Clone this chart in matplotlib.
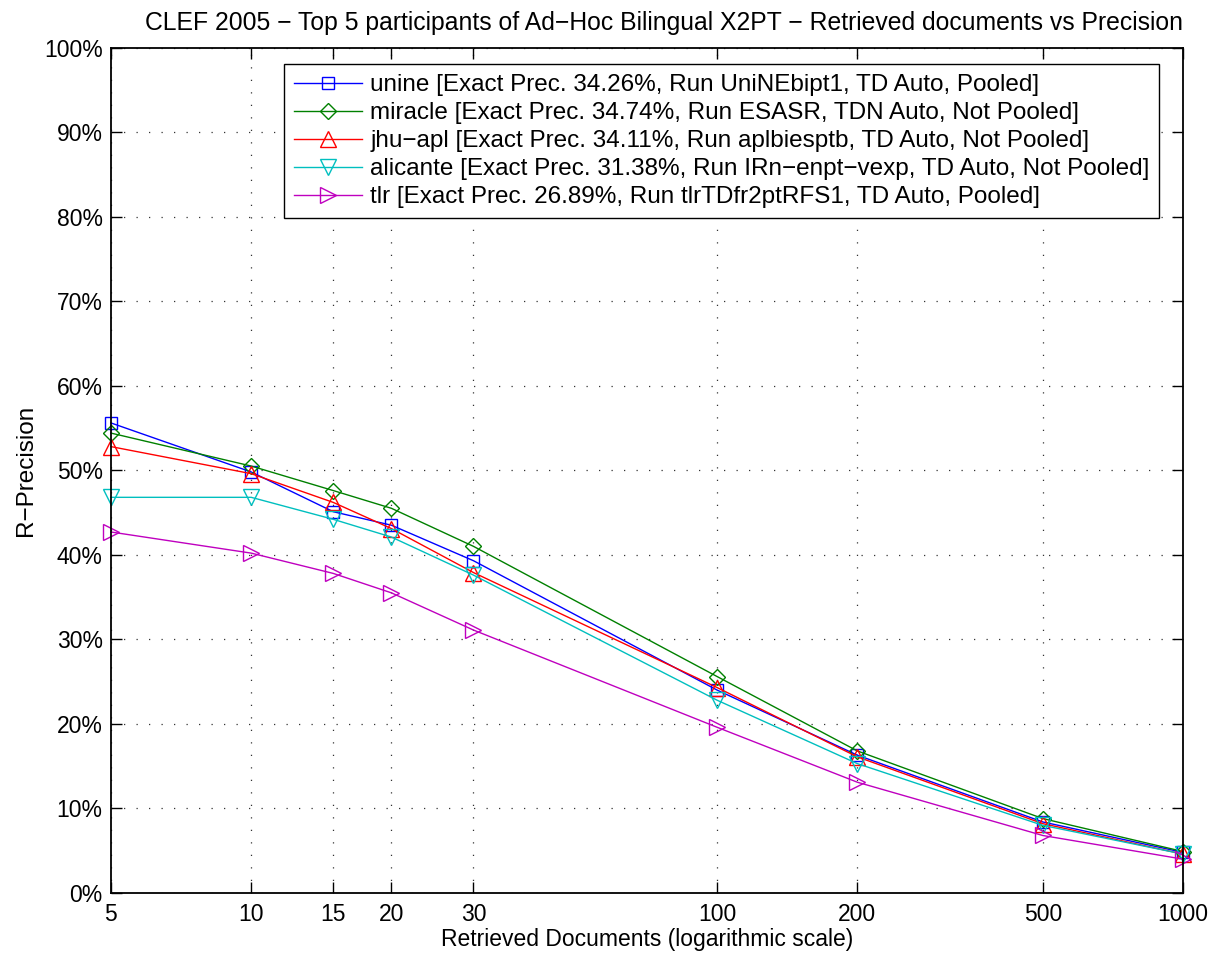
import matplotlib
matplotlib.use("Agg")
import matplotlib.pyplot as plt
from matplotlib.ticker import FixedLocator, FixedFormatter, NullLocator

plt.rcParams['font.family'] = ['Liberation Sans', 'DejaVu Sans']

docs = [5, 10, 15, 20, 30, 100, 200, 500, 1000]

unine = [55.6, 49.8, 45.1, 43.5, 39.3, 24.0, 16.3, 8.4, 4.8]
miracle = [54.4, 50.5, 47.6, 45.5, 41.0, 25.6, 16.8, 8.8, 4.9]
jhu_apl = [52.8, 49.6, 46.2, 43.1, 37.9, 24.3, 16.1, 8.2, 4.6]
alicante = [46.8, 46.8, 44.2, 42.1, 37.6, 22.8, 15.3, 8.0, 4.6]
tlr = [42.7, 40.2, 37.8, 35.5, 31.1, 19.6, 13.1, 6.8, 4.0]

labels = [
    'unine [Exact Prec. 34.26%, Run UniNEbipt1, TD Auto, Pooled]',
    'miracle [Exact Prec. 34.74%, Run ESASR, TDN Auto, Not Pooled]',
    'jhu\u2212apl [Exact Prec. 34.11%, Run aplbiesptb, TD Auto, Not Pooled]',
    'alicante [Exact Prec. 31.38%, Run IRn\u2212enpt\u2212vexp, TD Auto, Not Pooled]',
    'tlr [Exact Prec. 26.89%, Run tlrTDfr2ptRFS1, TD Auto, Pooled]',
]
series = [unine, miracle, jhu_apl, alicante, tlr]
colors = ['#0000ff', '#008000', '#ff0000', '#00bfbf', '#bf00bf']
markers = ['s', 'D', '^', 'v', '>']
msizes = [9, 8, 11, 11, 11]

fig = plt.figure(figsize=(12.19, 9.57), dpi=100)
ax = fig.add_axes([0.0910, 0.0669, 0.8795, 0.8834])

for vals, lab, c, m, ms in zip(series, labels, colors, markers, msizes):
    ax.plot(docs, vals, color=c, marker=m, markersize=ms, markerfacecolor='none',
            markeredgecolor=c, markeredgewidth=1.0, linewidth=1.0, label=lab,
            clip_on=False)

ax.set_xscale('log')
ax.set_xlim(5, 1000)
ax.set_ylim(0, 100)
ax.xaxis.set_major_locator(FixedLocator(docs))
ax.xaxis.set_major_formatter(FixedFormatter([str(d) for d in docs]))
ax.xaxis.set_minor_locator(NullLocator())
yt = list(range(0, 101, 10))
ax.set_yticks(yt)
ax.set_yticklabels([f'{v}%' for v in yt])

ax.tick_params(direction='in', labelsize=16.5, length=8, top=True, right=True, width=1)
ax.tick_params(axis='x', pad=7)
ax.tick_params(axis='y', pad=6)
ax.grid(True, color='#333333', linestyle=(0, (1, 9)), linewidth=0.9)
for s in ax.spines.values():
    s.set_linewidth(1.3)

ax.set_xlabel('Retrieved Documents (logarithmic scale)', fontsize=16.5, labelpad=2)
ax.set_ylabel('R\u2212Precision', fontsize=17.5, labelpad=5)
ax.set_title('CLEF 2005 \u2212 Top 5 participants of Ad\u2212Hoc Bilingual X2PT \u2212 Retrieved documents vs Precision',
             fontsize=17.8, pad=13, x=0.516)

leg = ax.legend(loc='upper right', bbox_to_anchor=(0.978, 0.980), borderaxespad=0,
                fontsize=17.5, fancybox=False, framealpha=1, edgecolor='black',
                handlelength=2.8, labelspacing=0.245, borderpad=0.4, handletextpad=0.35)
leg.get_frame().set_linewidth(1.0)

fig.savefig('out.png', dpi=100)
